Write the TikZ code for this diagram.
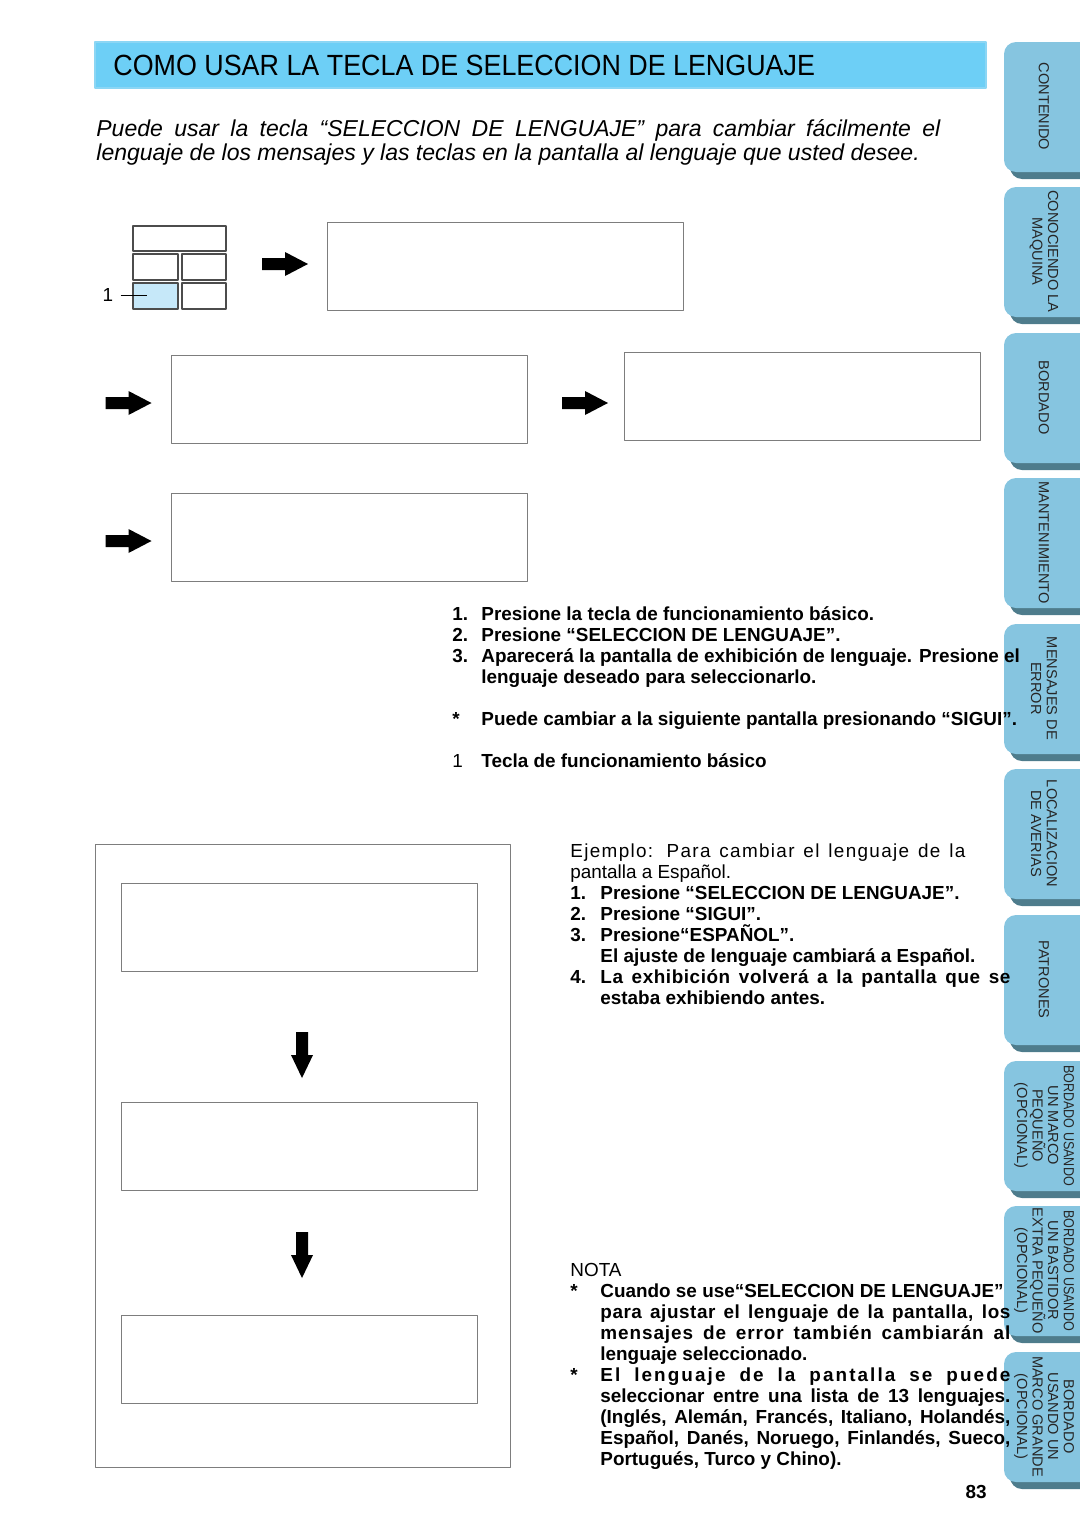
\documentclass[tikz,border=0pt]{standalone}
\usepackage{fontspec}
\setmainfont{Liberation Sans}
\newfontfamily\titlefont[FakeStretch=0.92]{Liberation Sans}
\newfontfamily\narrowfont[FakeStretch=0.86]{Liberation Sans}
\newcommand\spaced[2]{{\addfontfeature{LetterSpace=#1}#2}}
\definecolor{tabblue}{RGB}{134,197,224}
\definecolor{tabshade}{RGB}{78,124,140}
\definecolor{titleblue}{RGB}{109,207,246}
\definecolor{titleline}{RGB}{140,214,244}
\definecolor{keyblue}{RGB}{198,232,249}
\definecolor{framegray}{RGB}{125,125,125}
\begin{document}
\begin{tikzpicture}[x=0.5pt,y=-0.5pt,line join=round,
	screen/.style={draw=framegray,line width=0.5pt,minimum width=178pt,minimum height=44pt,inner sep=0pt},
	keyline/.style={draw=black!70,line width=0.9pt},
	tablabel/.style={rotate=-90,align=center,inner sep=0pt,text=black!85,font=\fontsize{7.3}{7.8}\selectfont},
	body/.style={inner sep=0pt,anchor=base west,font=\fontsize{9.45}{10.5}\selectfont}]
	\useasboundingbox (0,0) rectangle (1080,1526);
	% titulo
	\draw[fill=titleblue,draw=titleline,line width=0.6pt] (95,42) rectangle (986,88);
	\node[inner sep=0pt,anchor=base west,font=\titlefont\fontsize{14.6}{16}\selectfont] (titulo) at (113,75) {COMO USAR LA TECLA DE SELECCION DE LENGUAJE};
	\node[inner sep=0pt,anchor=base west,font=\fontsize{11.5}{12}\selectfont\itshape] (intro) at (96,136.5)
	{\parbox[t]{422pt}{Puede usar la tecla “SELECCION DE LENGUAJE” para cambiar fácilmente el\linebreak lenguaje de los mensajes y las teclas en la pantalla al lenguaje que usted desee.}};
	% pestanas
	\foreach \y/\t in {42/CONTENIDO,187/{CONOCIENDO LA\\MAQUINA},333/BORDADO,478/MANTENIMIENTO,
		624/{MENSAJES DE\\ERROR},769/{LOCALIZACION\\DE AVERIAS},915/PATRONES,
		1061/{\narrowfont BORDADO USANDO\\UN MARCO\\PEQUEÑO\\(OPCIONAL)},
		1206/{\narrowfont BORDADO USANDO\\UN BASTIDOR\\EXTRA PEQUEÑO\\(OPCIONAL)},
		1352/{BORDADO\\USANDO UN\\MARCO GRANDE\\(OPCIONAL)}}{
		\fill[tabshade,rounded corners=6pt] (1010,\y+7) rectangle (1100,\y+137);
		\fill[tabblue,rounded corners=6pt] (1004,\y) rectangle (1100,\y+130);
		\node[tablabel] (tab\y) at (1044,\y+64.5) {\t};
	}
	% tecla
	\draw[keyline] (133,226) rectangle (226,251);
	\draw[keyline] (133,254) rectangle (178,280);
	\draw[keyline] (182,254) rectangle (226,280);
	\draw[keyline,fill=keyblue] (133,283) rectangle (178,309);
	\draw[keyline] (182,283) rectangle (226,309);
	\node[body,anchor=center] (lbl1) at (108,295) {1};
	\coordinate (keypin) at (147,295);
	\draw[line width=0.4pt] (lbl1.east) ++(7,0) -- (keypin);
	% pantallas
	\node[screen] (scr1) at (505,266) {};
	\node[screen] (scr2) at (349,399) {};
	\node[screen] (scr3) at (802,396) {};
	\node[screen] (scr4) at (349,537) {};
	\foreach \x/\y in {285/264,128.5/403,585/403,128.5/541}
	\fill (\x-23,\y-6)--(\x,\y-6)--(\x,\y-12)--(\x+23,\y)--(\x,\y+12)--(\x,\y+6)--(\x-23,\y+6)--cycle;
	% ejemplo
	\draw[draw=framegray,line width=0.5pt] (95,844) rectangle (510,1467);
	\node[screen] (ex1) at (299.5,927) {};
	\node[screen] (ex2) at (299.5,1146) {};
	\node[screen] (ex3) at (299.5,1359) {};
	\foreach \y in {1055,1255}
	\fill (296,\y-23)--(308,\y-23)--(308,\y)--(313,\y)--(302,\y+23)--(291,\y)--(296,\y)--cycle;
	% textos
	\node[body] (pasos) at (452,620) {\bfseries
		\begin{tabular}[t]{@{}p{14.5pt}@{}p{271pt}@{}}
			1. & Presione la tecla de funcionamiento básico.\\
			2. & Presione “SELECCION DE LENGUAJE”.\\
			3. & Aparecerá la pantalla de exhibición de lenguaje. Presione el\newline lenguaje deseado para seleccionarlo.\\
			& \\
			{*} & Puede cambiar a la siguiente pantalla presionando “SIGUI”.\\
			& \\
			{\mdseries 1} & Tecla de funcionamiento básico\\
	\end{tabular}};
	\node[body] (ejemplo) at (570,857.5) {\bfseries
		\begin{tabular}[t]{@{}p{15pt}@{}p{205pt}@{}}
			\multicolumn{2}{@{}l@{}}{\mdseries\makebox[197.5pt][s]{\spaced{7}{Ejemplo: Para cambiar el lenguaje de la}}}\\
			\multicolumn{2}{@{}l@{}}{\mdseries pantalla a Español.}\\
			1. & Presione “SELECCION DE LENGUAJE”.\\
			2. & Presione “SIGUI”.\\
			3. & \smash{Presione“ESPAÑOL”.}\newline El ajuste de lenguaje cambiará a Español.\\
			4. & \spaced{3}{La exhibición volverá a la pantalla que se}\linebreak estaba exhibiendo antes.\\
	\end{tabular}};
	\node[body] (nota) at (570,1276) {\bfseries
		\begin{tabular}[t]{@{}p{15pt}@{}p{205pt}@{}}
			\multicolumn{2}{@{}l@{}}{\mdseries NOTA}\\
			{*} & Cuando se use“SELECCION DE LENGUAJE”\newline \spaced{3}{para ajustar el lenguaje de la pantalla, los}\linebreak \spaced{5}{mensajes de error también cambiarán al}\linebreak lenguaje seleccionado.\\
			{*} & \spaced{11}{El lenguaje de la pantalla se puede}\linebreak seleccionar entre una lista de 13 lenguajes.\linebreak (Inglés, Alemán, Francés, Italiano, Holandés,\linebreak Español, Danés, Noruego, Finlandés, Sueco,\linebreak Portugués, Turco y Chino).\\
	\end{tabular}};
	\node[body,anchor=base,font=\fontsize{9.45}{10.5}\selectfont\bfseries] (pagina) at (976,1498) {83};
\end{tikzpicture}
\end{document}
